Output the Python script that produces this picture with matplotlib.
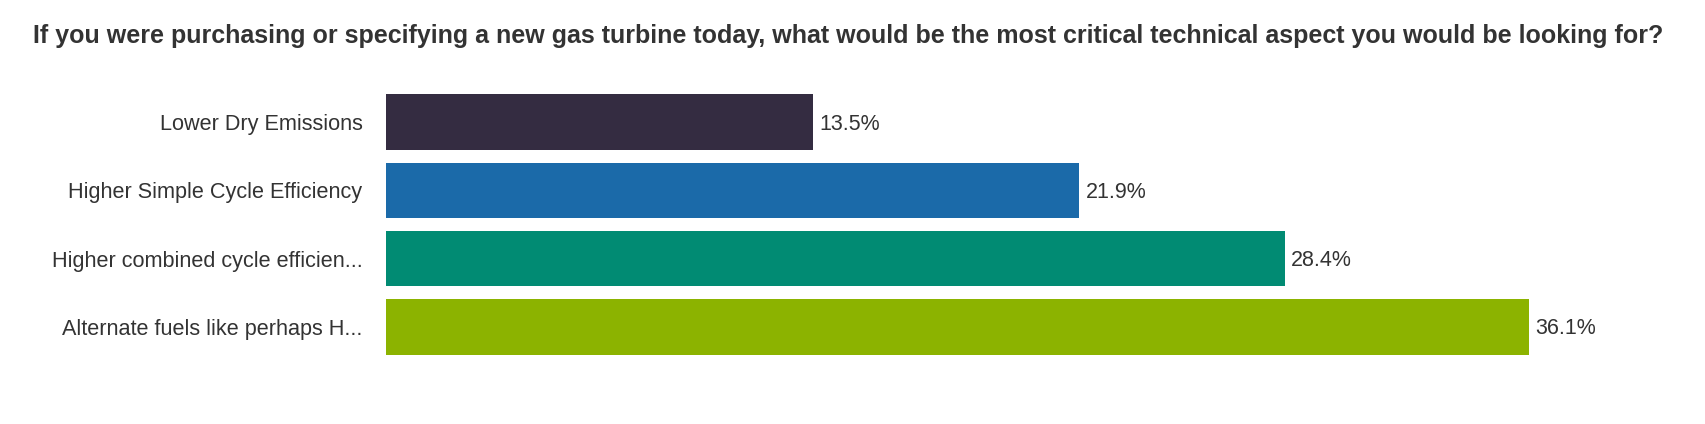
import matplotlib
matplotlib.use("Agg")
import matplotlib.pyplot as plt

title = "If you were purchasing or specifying a new gas turbine today, what would be the most critical technical aspect you would be looking for?"
categories = ["Lower Dry Emissions", "Higher Simple Cycle Efficiency",
              "Higher combined cycle efficien...", "Alternate fuels like perhaps H..."]
values = [13.5, 21.9, 28.4, 36.1]
colors = ["#342c41", "#1b6aa9", "#018b73", "#8cb300"]

W, H = 1705, 424
fig = plt.figure(figsize=(W / 100, H / 100), dpi=100)
plt.rcParams['font.family'] = ['Liberation Sans', 'DejaVu Sans']

# axes placement in pixels
ax_left, ax_right = 386, 1652
ax_top, ax_bottom = 95 - 7, 354 + 7
ax = fig.add_axes([ax_left / W, 1 - ax_bottom / H, (ax_right - ax_left) / W, (ax_bottom - ax_top) / H])

y = list(range(len(categories)))
ax.barh(y, values, height=0.81, color=colors)
ax.set_ylim(len(categories) - 0.5, -0.5)
ax.set_xlim(0, 40)
ax.set_yticks(y)
ax.set_yticklabels(categories, fontsize=15.6, color="#333333")
ax.tick_params(axis='y', length=0, pad=17)
ax.set_xticks([])
for s in ax.spines.values():
    s.set_visible(False)

for yi, v in zip(y, values):
    ax.text(v + 0.2, yi + 0.03, f"{v}%", va='center', ha='left', fontsize=15.5, color="#333333")

fig.text(848 / W, 1 - 36 / H, title, ha='center', va='center', fontsize=18,
         fontweight='bold', color="#333333")

fig.savefig("out.png", dpi=100, facecolor="white")
